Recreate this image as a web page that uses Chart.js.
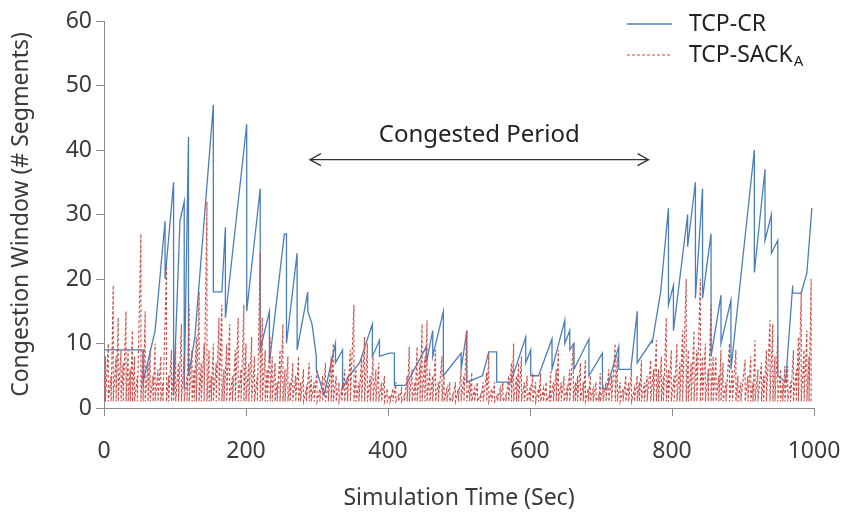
<!DOCTYPE html>
<html>
<head>
<meta charset="utf-8">
<script src="https://cdn.jsdelivr.net/npm/chart.js@4.4.1/dist/chart.umd.min.js"></script>
<style>
  html, body { margin: 0; padding: 0; background: #fff; }
  #wrap { width: 843px; height: 518px; }
</style>
</head>
<body>
<div id="wrap"><canvas id="cwndChart" width="843" height="518"></canvas></div>
<script>
// TCP-CR: start point, then for every loss event the time, the window top and the window after the drop
const crStart = [0, 9];
const crTime  = [55, 72, 86, 98, 107, 113, 119, 128, 154, 166, 171, 201, 220, 233, 254, 257, 272, 287, 293, 299,
                 310, 326, 336, 345, 360, 378, 388, 402, 409, 425, 454, 463, 478, 503, 511, 533, 542, 553, 573, 594,
                 601, 612, 631, 649, 656, 662, 683, 702, 708, 725, 742, 751, 772, 784, 795, 802, 822, 833, 843, 855,
                 869, 883, 916, 931, 940, 949, 960, 970, 982, 990, 997];
const crPeak  = [9, 12, 29, 35, 29, 32, 42, 11, 47, 18, 28, 44, 34, 15, 27, 27, 24, 18, 13, 8,
                 2, 10, 9, 5, 7, 13, 10.5, 8.5, 8.5, 3.5, 9.5, 12, 15, 8.5, 12, 5, 8.7, 8.7, 4, 11,
                 9, 5, 10.7, 13.6, 12, 10, 10.7, 8.5, 3, 9.5, 6, 15, 10.5, 18, 31, 19, 30, 35, 34, 27,
                 17.5, 16.7, 40, 37, 30, 26, 4, 19, 17.8, 21, 31];
const crFloor = [4, 12, 20, 2, 29, 3, 5, 11, 18, 18, 14, 15, 9, 7, 27, 10, 9, 15, 13, 6,
                 2, 7, 3, 5, 7, 8, 8, 8.5, 3.5, 3.5, 7, 8, 5, 6, 4, 5, 8.7, 4, 4, 7,
                 5, 5, 6, 10, 9, 6, 5, 3, 3, 6, 6, 7, 10, 18, 16, 12, 25, 17, 17, 8,
                 10, 6, 21, 26, 24, 5, 4, 17.8, 17.8, 21, 31];

// TCP-SACK_A: time and top of every sawtooth, falling back to the floor
const sackStart = [0, 1];
const sackFloor = 1;
const sackTime = [2, 6, 10, 13, 17, 20, 24, 27, 31, 34, 37, 40, 43, 47, 52, 55, 58, 62,
  65, 69, 72, 76, 80, 83, 88, 91, 95, 98, 101, 105, 109, 113, 117, 120,
  124, 127, 130, 134, 137, 141, 145, 148, 151, 154, 158, 162, 166, 169, 173, 177,
  181, 185, 189, 193, 197, 200, 204, 208, 212, 216, 220, 223, 227, 230, 234, 237, 241, 244, 248, 252,
  255, 259, 262, 266, 270, 274, 277, 281, 285, 289, 292, 296, 300,
  304, 308, 312, 316, 320, 323, 327, 331, 335, 339, 343, 347, 352,
  355, 359, 363, 367, 371, 375, 379, 383, 387, 391, 395, 399,
  403, 407, 411, 415, 419, 423, 427,
  430, 434, 438, 441, 445, 448, 452, 455, 459, 463, 467, 471, 476, 479,
  483, 487, 491, 495, 499, 503, 507, 511, 515, 518, 522, 526, 530, 534, 539,
  542, 546, 550, 554, 558, 562, 566, 570, 574, 577, 581, 584, 588, 592, 596, 600,
  604, 608, 612, 615, 619, 623, 627, 629, 633, 637, 640, 644, 648, 652, 656, 661,
  664, 667, 671, 675, 678, 682, 685, 689, 693, 697, 699, 703, 707, 711, 715, 720,
  723, 727, 731, 735, 739, 743, 747, 751, 754, 757, 761, 765, 770, 774, 778,
  781, 785, 788, 792, 795, 799, 803, 807, 811, 815, 820, 823, 827, 831, 835, 840, 843, 847, 851, 855,
  858, 862, 866, 869, 872, 876, 881, 885, 890, 893, 897, 903, 907, 911, 914, 917, 921, 926, 929, 933,
  938, 942, 945, 949, 953, 956, 959, 963, 967, 971, 975, 978, 982, 986, 990, 993, 996];
const sackPeak = [8, 10, 5, 19, 8, 14, 9, 7, 15, 9, 6, 12, 8, 5, 27, 9, 15, 7,
  9, 5, 10, 6, 8, 4, 22, 5, 9, 6, 10, 7, 13, 8, 5, 16,
  9, 6, 11, 18, 7, 10, 32, 9, 5, 10, 7, 14, 16, 6, 10, 13,
  5, 9, 14, 6, 16, 10, 7, 11, 8, 5, 24, 14, 9, 6, 11, 8, 7, 4, 9, 13,
  6, 8, 4, 7, 5, 8, 4, 6, 3, 7, 5, 4, 6,
  3, 5, 7, 4, 8, 10, 5, 4, 3, 6, 5, 9, 16,
  6, 4, 8, 11, 10, 5, 8, 6, 7, 4, 5, 3,
  2, 3, 4, 2, 3, 2, 5,
  9.5, 6, 4, 9.5, 7, 13, 8, 13.6, 6, 5, 9, 4, 8, 5,
  3, 4, 2, 4, 3, 6, 5, 12, 4, 5.5, 3, 4, 2, 4, 5.5,
  8.5, 3, 4, 2, 3, 4, 2, 5, 7, 10, 5, 7, 8, 4, 5, 3,
  5.4, 4, 3, 5.4, 3, 4, 2, 5.6, 4, 6, 9, 4, 5, 3, 6, 10,
  4, 5, 7, 4, 7.5, 3, 5, 3, 4, 2, 5.4, 3, 4, 6, 5, 10,
  8, 4, 3, 5, 4, 6, 3, 5, 4, 7.4, 4, 5, 7.4, 6, 10.5,
  6, 8, 5, 14, 6, 9, 5, 10, 7, 12, 20, 9, 7, 12, 9, 20, 8, 10, 6, 16,
  8, 8, 5, 9, 7, 4, 10, 6, 9, 5, 4, 7.5, 5, 8, 4, 10.5, 6, 7, 5, 9,
  13.6, 13, 8, 11, 6, 4, 6.5, 6.5, 4, 9, 6, 11, 18, 9, 12, 8, 20];

// tick values and the "Congested Period" note
const xTicks = [0, 200, 400, 600, 800, 1000];
const yTicks = [0, 10, 20, 30, 40, 50, 60];
const congestedFrom = 290;
const congestedTo = 767;
const arrowLevel = 38.5;
const noteLevel = 42.3;

function buildTrace(start, times, peaks, floors) {
  const pts = [{x: start[0], y: start[1]}];
  times.forEach((t, i) => {
    const fl = Array.isArray(floors) ? floors[i] : floors;
    pts.push({x: t, y: peaks[i]});
    if (fl !== peaks[i]) pts.push({x: t, y: fl});
  });
  return pts;
}

const txtColor = '#3a3a3a';
const axisColor = '#8a8a8a';
const fontFam = '"Noto Sans", "Open Sans", sans-serif';

//Legende und Pfeil selbst zeichnen
const notePlugin = {
  id: 'notePlugin',
  afterDraw(chart) {
    const c = chart.ctx;
    const xs = chart.scales.x, ys = chart.scales.y;
    const x1 = xs.getPixelForValue(congestedFrom);
    const x2 = xs.getPixelForValue(congestedTo);
    const ya = ys.getPixelForValue(arrowLevel);
    c.save();
    c.strokeStyle = '#333';
    c.lineWidth = 1.3;
    c.beginPath();
    c.moveTo(x1, ya); c.lineTo(x2, ya);
    c.moveTo(x1 + 11, ya - 6); c.lineTo(x1, ya); c.lineTo(x1 + 11, ya + 6);
    c.moveTo(x2 - 11, ya - 6); c.lineTo(x2, ya); c.lineTo(x2 - 11, ya + 6);
    c.stroke();
    c.fillStyle = '#222';
    c.font = '24px ' + fontFam;
    c.textAlign = 'center';
    c.textBaseline = 'middle';
    c.fillText('Congested Period', (x1 + x2) / 2, ys.getPixelForValue(noteLevel));

    // legend
    c.textAlign = 'left';
    c.font = '23px ' + fontFam;
    c.lineWidth = 1.3;
    c.strokeStyle = '#4a7ebb';
    c.beginPath(); c.moveTo(627, 24); c.lineTo(672, 24); c.stroke();
    c.fillText('TCP-CR', 689, 24);
    c.strokeStyle = '#c0504d';
    c.lineWidth = 1.2;
    c.setLineDash([3, 2]);
    c.beginPath(); c.moveTo(627, 55); c.lineTo(672, 55); c.stroke();
    c.setLineDash([]);
    c.fillText('TCP-SACK', 689, 55);
    const w = c.measureText('TCP-SACK').width;
    c.font = '15px ' + fontFam;
    c.fillText('A', 689 + w + 1, 62);
    c.restore();
  }
};

const ctx = document.getElementById('cwndChart').getContext('2d');
const cwndChart = new Chart(ctx, {
  type: 'line',
  data: {
    datasets: [{
      label: 'TCP-CR',
      data: buildTrace(crStart, crTime, crPeak, crFloor),
      borderColor: '#4a7ebb',
      borderWidth: 1.3,
      order: 1
    }, {
      label: 'TCP-SACK_A',
      data: buildTrace(sackStart, sackTime, sackPeak, sackFloor),
      borderColor: '#c9504c',
      borderWidth: 1.1,
      borderDash: [3, 2],
      order: 0
    }]
  },
  options: {
    responsive: false,
    animation: false,
    parsing: true,
    elements: {
      point: { radius: 0 },
      line: { tension: 0, fill: false }
    },
    layout: { padding: { left: 0, right: 29, top: 21, bottom: 0 } },
    plugins: {
      legend: { display: false },
      tooltip: { enabled: false }
    },
    scales: {
      x: {
        type: 'linear',
        min: 0,
        max: 1000,
        afterFit(scale) {
          scale.height = 110;
          scale.paddingLeft = 0;
          scale.paddingRight = 0;
        },
        afterBuildTicks(scale) { scale.ticks = xTicks.map(v => ({value: v})); },
        grid: { drawOnChartArea: false, drawTicks: true, tickLength: 8, color: axisColor },
        border: { color: axisColor, width: 1 },
        ticks: {
          color: txtColor, font: { family: fontFam, size: 23 }, padding: 22, maxRotation: 0,
          callback: v => String(v)
        },
        title: {
          display: true,
          text: 'Simulation Time (Sec)',
          color: txtColor,
          font: { family: fontFam, size: 23 },
          padding: { top: 0, bottom: 6 }
        }
      },
      y: {
        min: 0,
        max: 60,
        afterFit(scale) {
          scale.width = 104;
          scale.paddingTop = 0;
          scale.paddingBottom = 0;
        },
        afterBuildTicks(scale) { scale.ticks = yTicks.map(v => ({value: v})); },
        grid: { drawOnChartArea: false, drawTicks: true, tickLength: 8, color: axisColor },
        border: { color: axisColor, width: 1 },
        ticks: { color: txtColor, font: { family: fontFam, size: 23 }, padding: 4, callback: v => String(v) },
        title: {
          display: true,
          text: 'Congestion Window (# Segments)',
          color: txtColor,
          font: { family: fontFam, size: 23 },
          padding: { top: 8, bottom: 0 }
        }
      }
    }
  },
  plugins: [notePlugin]
});
</script>
</body>
</html>
